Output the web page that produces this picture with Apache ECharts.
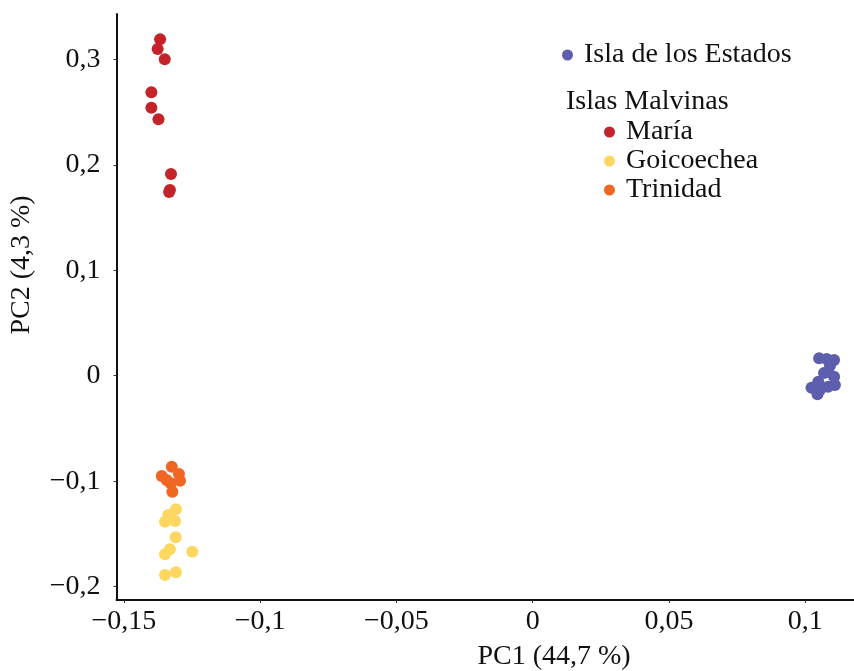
<!DOCTYPE html>
<html>
<head>
<meta charset="utf-8">
<script src="https://cdn.jsdelivr.net/npm/echarts@6/dist/echarts.min.js"></script>
<style>
  html, body { margin: 0; padding: 0; background: #fff; }
  #chart { width: 854px; height: 671px; }
</style>
</head>
<body>
<div id="chart"></div>
<script>
// PCA scores: [PC1, PC2] per individual
const islaEstados = [
  [0.1051, 0.0165], [0.1079, 0.0158], [0.1106, 0.0149], [0.1091, 0.0095],
  [0.1084, 0.0038], [0.1069, 0.0026], [0.1106, -0.0009], [0.1048, -0.0057],
  [0.1023, -0.0114], [0.1054, -0.0136], [0.1084, -0.0104], [0.1109, -0.0088],
  [0.1045, -0.0176]
];
const maria = [
  [-0.1367, 0.3190], [-0.1376, 0.3098], [-0.1350, 0.3000],
  [-0.1399, 0.2687], [-0.1399, 0.2541], [-0.1373, 0.2431],
  [-0.1327, 0.1912], [-0.1331, 0.1761], [-0.1334, 0.1742]
];
const goicoechea = [
  [-0.1309, -0.1267], [-0.1337, -0.1321], [-0.1349, -0.1384], [-0.1312, -0.1378],
  [-0.1310, -0.1532], [-0.1331, -0.1646], [-0.1349, -0.1693], [-0.1249, -0.1669],
  [-0.1349, -0.1890], [-0.1309, -0.1864]
];
const trinidad = [
  [-0.1324, -0.0863], [-0.1361, -0.0951], [-0.1343, -0.0989], [-0.1298, -0.0932],
  [-0.1294, -0.0996], [-0.1328, -0.1020], [-0.1322, -0.1100]
];

const xTicks = [-0.15, -0.1, -0.05, 0, 0.05, 0.1];
const yTicks = [-0.2, -0.1, 0, 0.1, 0.2, 0.3];

const FONT = '"Liberation Serif", "Times New Roman", serif';
const FS = 28;
const colors = {
  estados: '#5d5fae',
  maria: '#c42329',
  goicoechea: '#fdd760',
  trinidad: '#f06623'
};

// decimal comma and true minus sign
function fmt(v) {
  if (Math.abs(v) < 1e-9) return '0';
  const s = String(Math.round(v * 1000) / 1000).replace('.', ',');
  return s.replace('-', '\u2212');
}

const chart = echarts.init(document.getElementById('chart'), null, { renderer: 'canvas' });

function scatter(name, data, color) {
  return {
    name: name,
    type: 'scatter',
    data: data,
    symbol: 'circle',
    symbolSize: 12,
    itemStyle: { color: color, opacity: 1 },
    emphasis: { disabled: true }
  };
}

const legendText = { fontFamily: FONT, fontSize: FS, color: '#111', padding: [0, 0, 0, 6] };

chart.setOption({
  animation: false,
  backgroundColor: '#ffffff',
  grid: { left: 116.5, right: 0, top: 14, bottom: 71, containLabel: false },
  xAxis: {
    type: 'value',
    min: -0.1527,
    max: 0.1179,
    splitLine: { show: false },
    axisLine: { show: true, onZero: false, lineStyle: { color: '#111', width: 2 } },
    axisTick: { show: true, length: 3, customValues: xTicks, lineStyle: { color: '#333', width: 1 } },
    axisLabel: {
      customValues: xTicks,
      formatter: fmt,
      margin: 8,
      color: '#111',
      fontFamily: FONT,
      fontSize: FS
    }
  },
  yAxis: {
    type: 'value',
    min: -0.2127,
    max: 0.343,
    splitLine: { show: false },
    axisLine: { show: true, onZero: false, lineStyle: { color: '#111', width: 2 } },
    axisTick: { show: true, length: 3, customValues: yTicks, lineStyle: { color: '#333', width: 1 } },
    axisLabel: {
      customValues: yTicks,
      formatter: fmt,
      margin: 16,
      color: '#111',
      fontFamily: FONT,
      fontSize: FS
    }
  },
  legend: [
    {
      data: ['Isla de los Estados'],
      left: 557, top: 36,
      icon: 'circle', itemWidth: 11, itemHeight: 11, itemGap: 6,
      textStyle: legendText,
      selectedMode: false
    },
    {
      data: ['María', 'Goicoechea', 'Trinidad'],
      orient: 'vertical',
      left: 599, top: 113,
      icon: 'circle', itemWidth: 11, itemHeight: 11, itemGap: 1,
      textStyle: legendText,
      selectedMode: false
    }
  ],
  graphic: [
    {
      type: 'text', left: 566, top: 88,
      style: { text: 'Islas Malvinas', font: FS + 'px ' + FONT, fill: '#111' }
    },
    {
      type: 'text', x: 554, y: 657,
      style: { text: 'PC1 (44,7 %)', font: FS + 'px ' + FONT, fill: '#111', align: 'center', verticalAlign: 'middle' }
    },
    {
      type: 'text', x: 22, y: 265, rotation: Math.PI / 2,
      style: { text: 'PC2 (4,3 %)', font: FS + 'px ' + FONT, fill: '#111', align: 'center', verticalAlign: 'middle' }
    }
  ],
  series: [
    scatter('Isla de los Estados', islaEstados, colors.estados),
    scatter('María', maria, colors.maria),
    scatter('Goicoechea', goicoechea, colors.goicoechea),
    scatter('Trinidad', trinidad, colors.trinidad)
  ]
});
</script>
</body>
</html>
